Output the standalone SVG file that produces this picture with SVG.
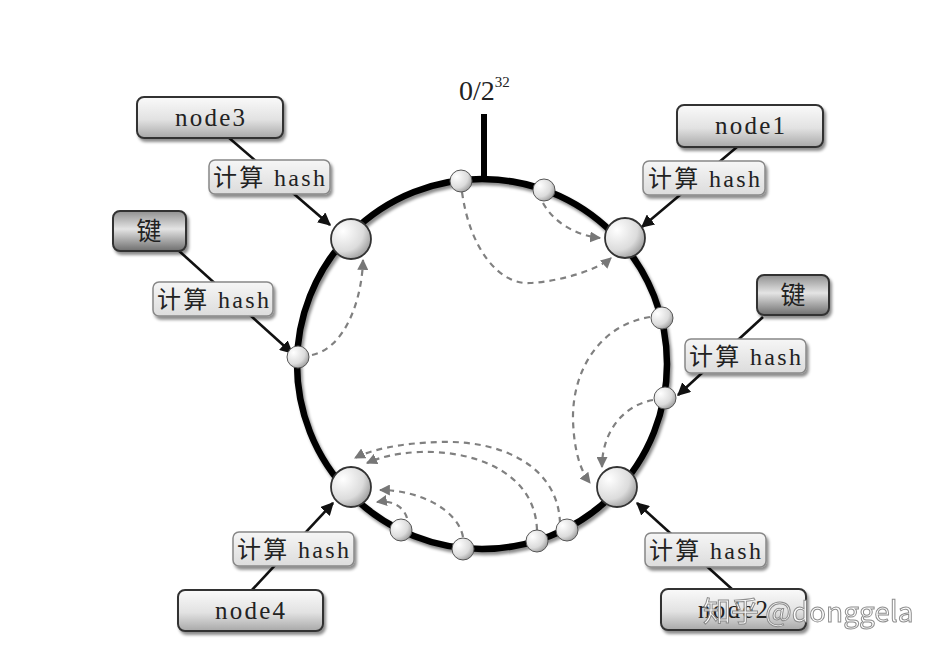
<svg xmlns="http://www.w3.org/2000/svg" width="944" height="654" viewBox="0 0 944 654">
<style>
.lbl{font-family:"Liberation Serif","Noto Sans CJK SC",serif;fill:#222;text-anchor:middle}
.box{fill:url(#gBox);stroke:#333;stroke-width:2}
.key{fill:url(#gKey);stroke:#333;stroke-width:2}
.hash{fill:url(#gHash);stroke:#888;stroke-width:1.5}
.big{fill:url(#gBall);stroke:#333;stroke-width:1.8}
.small{fill:url(#gBall);stroke:#555;stroke-width:1}
.solid{stroke:#111;stroke-width:2.6;fill:none;marker-end:url(#aBlk)}
.dash{stroke:#808080;stroke-width:2.2;fill:none;stroke-dasharray:6 5;marker-end:url(#aGry)}
</style>
<defs>
<linearGradient id="gBox" x1="0" y1="0" x2="0" y2="1"><stop offset="0" stop-color="#fafafa"/><stop offset="0.55" stop-color="#e2e2e2"/><stop offset="1" stop-color="#a8a8a8"/></linearGradient>
<linearGradient id="gKey" x1="0" y1="0" x2="0" y2="1"><stop offset="0" stop-color="#909090"/><stop offset="0.45" stop-color="#e4e4e4"/><stop offset="1" stop-color="#6e6e6e"/></linearGradient>
<linearGradient id="gHash" x1="0" y1="0" x2="0" y2="1"><stop offset="0" stop-color="#f6f6f6"/><stop offset="1" stop-color="#dcdcdc"/></linearGradient>
<radialGradient id="gBall" cx="0.3" cy="0.3" r="0.85"><stop offset="0" stop-color="#ffffff"/><stop offset="0.6" stop-color="#dcdcdc"/><stop offset="1" stop-color="#8c8c8c"/></radialGradient>
<filter id="sh" x="-20%" y="-20%" width="150%" height="160%"><feDropShadow dx="2" dy="3" stdDeviation="1.5" flood-color="#000" flood-opacity="0.45"/></filter>
<marker id="aBlk" viewBox="0 0 10 10" refX="9" refY="5" markerWidth="5" markerHeight="5" orient="auto" markerUnits="strokeWidth"><path d="M0,0 L10,5 L0,10 z" fill="#111"/></marker>
<marker id="aGry" viewBox="0 0 10 10" refX="9" refY="5" markerWidth="5" markerHeight="5" orient="auto" markerUnits="strokeWidth"><path d="M0,0 L10,5 L0,10 z" fill="#777"/></marker>
</defs>
<rect width="944" height="654" fill="#fff"/>

<g id="ring">
<circle cx="482" cy="364" r="185" fill="none" stroke="#000" stroke-width="6.5" filter="url(#sh)"/>
<line x1="484" y1="114" x2="484" y2="180" stroke="#000" stroke-width="6"/>
<text x="459" y="100" font-family="Liberation Serif,serif" font-size="28" fill="#222">0/2<tspan font-size="15" dy="-13">32</tspan></text>
</g>

<g id="connectors">
<line class="solid" x1="228" y1="137" x2="330" y2="225"/>
<line class="solid" x1="737" y1="147" x2="642" y2="227"/>
<line class="solid" x1="178" y1="250" x2="292" y2="353"/>
<line class="solid" x1="763" y1="317" x2="678" y2="395"/>
<line class="solid" x1="252" y1="590" x2="333" y2="503"/>
<line class="solid" x1="733" y1="590" x2="637" y2="503"/>
<path class="dash" d="M462,192 C470,250 500,285 530,283 C565,281 600,268 611,258"/>
<path class="dash" d="M543,203 C555,225 580,236 600,238"/>
<path class="dash" d="M312,355 C345,348 362,300 363,260"/>
<path class="dash" d="M650,317 C600,325 572,370 573,420 C574,450 580,470 590,483"/>
<path class="dash" d="M653,400 C625,405 602,430 602,467"/>
<path class="dash" d="M407,518 C403,505 390,500 377,502"/>
<path class="dash" d="M463,537 C458,510 420,490 380,490"/>
<path class="dash" d="M537,530 C535,470 470,450 420,452 C395,453 378,458 367,463"/>
<path class="dash" d="M560,523 C558,465 500,440 440,442 C400,443 370,450 355,458"/>
</g>

<g id="node3-circle"><circle class="big" cx="351" cy="239" r="20"/></g>
<g id="node1-circle"><circle class="big" cx="625" cy="238" r="20"/></g>
<g id="node4-circle"><circle class="big" cx="351" cy="487" r="20"/></g>
<g id="node2-circle"><circle class="big" cx="617" cy="487" r="20"/></g>

<g id="small-nodes">
<circle class="small" cx="461" cy="181" r="11"/>
<circle class="small" cx="544" cy="190" r="11"/>
<circle class="small" cx="662" cy="318" r="11"/>
<circle class="small" cx="665" cy="398" r="11"/>
<circle class="small" cx="298" cy="357" r="11"/>
<circle class="small" cx="401" cy="530" r="11"/>
<circle class="small" cx="463" cy="549" r="11"/>
<circle class="small" cx="537" cy="541" r="11"/>
<circle class="small" cx="567" cy="530" r="11"/>
</g>

<g id="node3"><rect class="box" x="137" y="97" width="146" height="41" rx="7" filter="url(#sh)"/><text class="lbl" x="210" y="126" font-size="25" textLength="70" lengthAdjust="spacing">node3</text></g>
<g id="node1"><rect class="box" x="677" y="105" width="146" height="42" rx="7" filter="url(#sh)"/><text class="lbl" x="750" y="134" font-size="25" textLength="70" lengthAdjust="spacing">node1</text></g>
<g id="node4"><rect class="box" x="178" y="590" width="145" height="41" rx="7" filter="url(#sh)"/><text class="lbl" x="250" y="619" font-size="25" textLength="70" lengthAdjust="spacing">node4</text></g>
<g id="node2"><rect class="box" x="661" y="589" width="145" height="41" rx="7" filter="url(#sh)"/><text class="lbl" x="733" y="618" font-size="25" textLength="70" lengthAdjust="spacing">node2</text></g>
<g id="key-left"><rect class="key" x="113" y="211" width="73" height="40" rx="7" filter="url(#sh)"/><text class="lbl" x="149" y="240" font-size="25">键</text></g>
<g id="key-right"><rect class="key" x="757" y="275" width="72" height="40" rx="7" filter="url(#sh)"/><text class="lbl" x="793" y="304" font-size="25">键</text></g>

<g id="hash-tl"><rect class="hash" x="209" y="160" width="121" height="34" rx="6" filter="url(#sh)"/><text class="lbl" x="269" y="186" font-size="24" textLength="112" lengthAdjust="spacing">计算 hash</text></g>
<g id="hash-tr"><rect class="hash" x="643" y="161" width="122" height="34" rx="6" filter="url(#sh)"/><text class="lbl" x="704" y="187" font-size="24" textLength="112" lengthAdjust="spacing">计算 hash</text></g>
<g id="hash-l"><rect class="hash" x="153" y="282" width="120" height="34" rx="6" filter="url(#sh)"/><text class="lbl" x="213" y="308" font-size="24" textLength="112" lengthAdjust="spacing">计算 hash</text></g>
<g id="hash-r"><rect class="hash" x="685" y="339" width="121" height="34" rx="6" filter="url(#sh)"/><text class="lbl" x="745" y="365" font-size="24" textLength="112" lengthAdjust="spacing">计算 hash</text></g>
<g id="hash-bl"><rect class="hash" x="233" y="532" width="121" height="34" rx="6" filter="url(#sh)"/><text class="lbl" x="293" y="558" font-size="24" textLength="112" lengthAdjust="spacing">计算 hash</text></g>
<g id="hash-br"><rect class="hash" x="645" y="533" width="121" height="34" rx="6" filter="url(#sh)"/><text class="lbl" x="705" y="559" font-size="24" textLength="112" lengthAdjust="spacing">计算 hash</text></g>

<g id="watermark"><text x="703" y="622" font-family="Noto Sans CJK SC,Liberation Sans,sans-serif" font-size="28" fill="#fff" stroke="#888" stroke-width="1" opacity="0.95">知乎 @donggela</text></g>
</svg>
